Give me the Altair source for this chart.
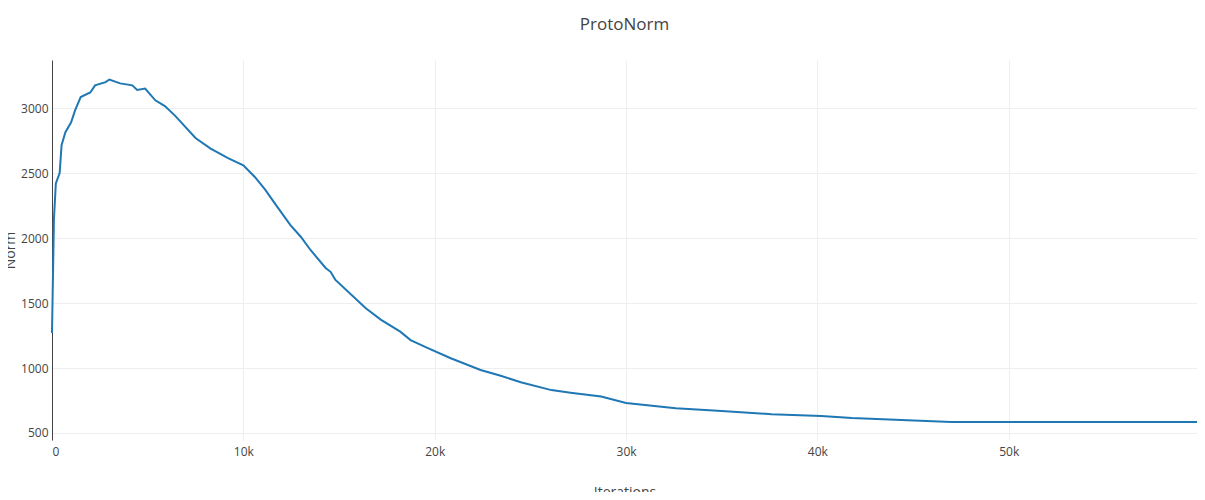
import altair as alt
import pandas as pd

iters = [0,100,200,400,500,700,1000,1200,1500,2000,2250,2800,3000,3560,4200,4450,4870,5400,5900,6440,7500,8270,9200,10000,10600,11150,11700,12460,13000,13500,14300,14560,14800,16400,17200,18200,18740,19530,20840,22400,23450,24500,26100,27100,28700,30000,32600,35000,37600,40200,41800,44400,47000,49600,54870,59840]
norm = [1270,2140,2420,2500,2715,2815,2890,2980,3085,3120,3175,3200,3220,3190,3175,3140,3150,3060,3015,2940,2770,2690,2615,2560,2470,2370,2255,2100,2010,1910,1770,1740,1680,1460,1370,1280,1215,1160,1075,985,940,890,830,810,780,730,690,670,645,630,615,600,585,585,585,585]

df = pd.DataFrame({"Iterations": iters, "Norm": norm})
grey = "#444"
chart = alt.Chart(df).mark_line(color="#1f77b4", strokeWidth=2).encode(
    x=alt.X("Iterations:Q", scale=alt.Scale(domain=[0, 59840], nice=False, zero=False),
            axis=alt.Axis(title="Iterations", values=[0,10000,20000,30000,40000,50000],
                          labelExpr="datum.value==0?'0':(datum.value/1000)+'k'",
                          domain=False, ticks=False, gridColor="#eee", labelColor=grey,
                          labelFontSize=12, titleFontSize=14, titleColor=grey, titleFontWeight="normal",
                          titlePadding=28, labelPadding=6)),
    y=alt.Y("Norm:Q", scale=alt.Scale(domain=[446, 3370], nice=False, zero=False),
            axis=alt.Axis(title="Norm", values=[500,1000,1500,2000,2500,3000], format="d",
                          domain=True, domainColor=grey, ticks=False, gridColor="#eee",
                          labelColor=grey, labelFontSize=12, titleFontSize=14, titleColor=grey,
                          titleFontWeight="normal", titleX=-42, titleY=190, titleAlign="center",
                          titleBaseline="middle", labelPadding=4)),
).properties(
    width=1145, height=380,
    title=alt.TitleParams("ProtoNorm", fontSize=17, color=grey, fontWeight="normal", offset=26),
    autosize=alt.AutoSizeParams(type="none"),
    padding={"left": 44, "top": 52, "right": 0, "bottom": 52},
).configure(font="Open Sans").configure_view(stroke=None)

chart.save("out.html", embed_options={"renderer": "svg", "actions": False})
